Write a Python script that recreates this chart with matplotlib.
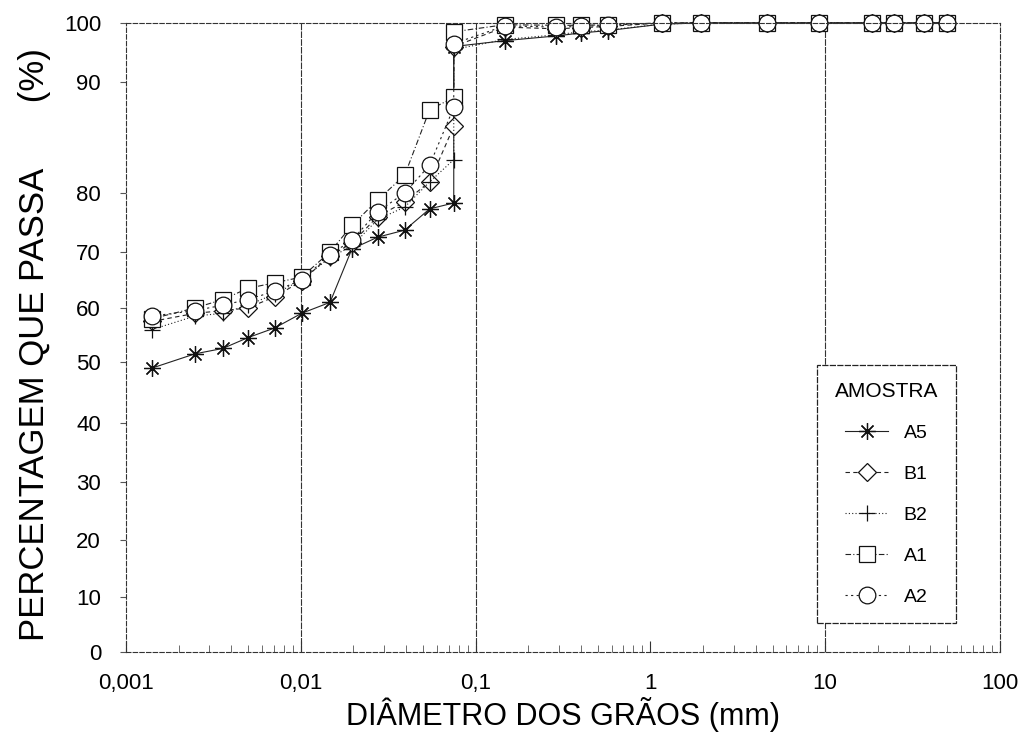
import numpy as np
import matplotlib
matplotlib.use("Agg")
import matplotlib.pyplot as plt
from matplotlib.ticker import FixedLocator, NullFormatter

plt.rcParams['font.family'] = ['Liberation Sans', 'DejaVu Sans']

# diameters (mm): sedimentation part, then sieves
x_sed = [0.00141, 0.00248, 0.00358, 0.00498, 0.0071, 0.0101, 0.0147, 0.0196, 0.0275, 0.0393, 0.0546, 0.075]
x_sieve = [0.075, 0.147, 0.29, 0.40, 0.57, 1.16, 1.96, 4.66, 9.25, 18.6, 24.8, 36.8, 49.8]

a5_sed = [49, 51.5, 52.5, 54.5, 56.3, 59, 61, 70.5, 72.5, 73.7, 77.3, 78.3]
a5_sieve = [96, 97, 97.8, 98.3, 98.7, 99.8, 100, 100, 100, 100, 100, 100, 100]
b1_sed = [57.5, 59, 59.5, 60, 62, 64.8, 69.3, 71.5, 76, 78.5, 81, 86]
b1_sieve = [96, 99.3, 99, 99.2, 99.4, 100, 100, 100, 100, 100, 100, 100, 100]
b2_sed = [56, 58.5, 59, 60.5, 62.5, 65, 69, 71, 75.5, 77.6, 81, 83]
b2_sieve = [95.5, 97.2, 98, 98.5, 98.8, 99.8, 100, 100, 100, 100, 100, 100, 100]
a1_sed = [58, 60, 61.5, 63.5, 64.5, 65.5, 70, 74.5, 78.8, 81.6, 87.5, 88.6]
a1_sieve = [98.5, 99.7, 99.6, 99.6, 99.7, 100, 100, 100, 100, 100, 100, 100, 100]
a2_sed = [58.5, 59.5, 60.5, 61.5, 63, 65, 69.5, 72, 76.8, 80, 82.5, 87.7]
a2_sieve = [96.5, 99.5, 99.3, 99.4, 99.6, 100, 100, 100, 100, 100, 100, 100, 100]

names = ["A5", "B1", "B2", "A1", "A2"]
markers = [(8, 2, 0), "D", "+", "s", "o"]
styles = ["-", (0, (4, 3)), (0, (1, 2)), (0, (5, 2, 1, 2)), (0, (2, 3))]

# the original graph paper: % ticks are not evenly spaced
y_ticks = [0, 10, 20, 30, 40, 50, 60, 70, 80, 90, 100]
y_paper = [0, 55, 112, 170, 229, 290, 344, 400, 459, 570, 629]

def fwd(v):
    return np.interp(v, y_ticks, y_paper)

def inv(t):
    return np.interp(t, y_paper, y_ticks)

fig = plt.figure(figsize=(10.33, 7.4), dpi=100)
ax = fig.add_axes([0.122, 0.119, 0.846, 0.850])
ax.set_xscale('log')
ax.set_yscale('function', functions=(fwd, inv))

series = [(a5_sed, a5_sieve), (b1_sed, b1_sieve), (b2_sed, b2_sieve),
          (a1_sed, a1_sieve), (a2_sed, a2_sieve)]
for (sed, sv), nm, mk, ls in zip(series, names, markers, styles):
    ms = 12 if mk != "D" else 9
    ax.plot(x_sed + x_sieve, sed + sv, color='#222222', lw=0.8, linestyle=ls,
            marker=mk, ms=ms, mfc='white', mec='#111111', mew=0.9, label=nm,
            clip_on=False)

grid_x = [0.01, 0.1, 10]
for g in grid_x:
    ax.axvline(g, color='#333333', lw=0.8, linestyle=(0, (6, 1)), zorder=0)

ax.set_xlim(0.001, 100)
ax.set_ylim(0, 100)
ax.set_xticks([0.001, 0.01, 0.1, 1, 10, 100])
ax.set_xticklabels(["0,001", "0,01", "0,1", "1", "10", "100"])
ax.xaxis.set_minor_formatter(NullFormatter())
ax.yaxis.set_major_locator(FixedLocator(y_ticks))
ax.yaxis.set_minor_locator(FixedLocator([]))
ax.set_yticklabels([str(v) for v in y_ticks])
ax.tick_params(axis='x', which='major', direction='in', length=8, pad=15,
               labelsize=16, color='#333333')
ax.tick_params(axis='x', which='minor', direction='in', length=5, color='#555555')
ax.tick_params(axis='y', direction='out', length=4, pad=14, labelsize=16,
               color='#555555')

for s in ax.spines.values():
    s.set_linestyle((0, (4, 2)))
    s.set_linewidth(0.8)
    s.set_color('#333333')

ax.set_xlabel("DIÂMETRO DOS GRÃOS (mm)", fontsize=22, labelpad=2)
fig.text(0.033, 0.535, "PERCENTAGEM QUE PASSA       (%)", rotation=90,
         fontsize=25, ha='center', va='center')

leg = ax.legend(title="AMOSTRA", loc='lower left', bbox_to_anchor=(0.78, 0.03),
                fontsize=14, title_fontsize=15, labelspacing=1.2,
                handlelength=2.2, borderpad=0.9, fancybox=False,
                edgecolor='#222222', framealpha=1)
leg.get_frame().set_linestyle((0, (5, 1)))
leg.get_frame().set_linewidth(0.9)

fig.savefig("out.png", dpi=100)
